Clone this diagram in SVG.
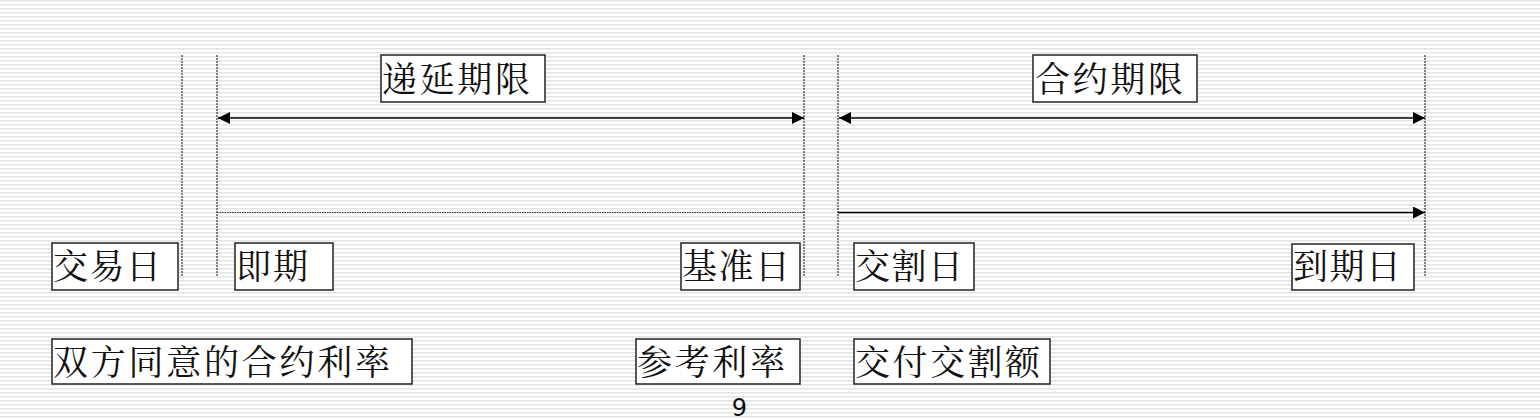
<svg xmlns="http://www.w3.org/2000/svg" width="1540" height="420" viewBox="0 0 1540 420">
<defs>
<pattern id="stripes" width="8" height="4" patternUnits="userSpaceOnUse">
<rect width="8" height="4" fill="#ffffff"/>
<rect y="0" width="8" height="1.6" fill="#e4e4e4"/>
</pattern>
<marker id="ah" viewBox="0 0 12 12" refX="12" refY="6" markerWidth="12" markerHeight="12" markerUnits="userSpaceOnUse" orient="auto-start-reverse">
<path d="M0,0 L12,6 L0,12 Z" fill="#000"/>
</marker>
</defs>
<style>
.box{fill:#fff;stroke:#222;stroke-width:1.5}
.t{font-family:"Noto Serif CJK SC","Noto Sans CJK SC",serif;font-size:35px;fill:#111}
.vd{stroke:#333;stroke-width:1.2;stroke-dasharray:2 1;fill:none}
.arr{stroke:#000;stroke-width:1.5;fill:none}
.dot{stroke:#333;stroke-width:1.2;stroke-dasharray:1.5 1;fill:none}
.pg{font-family:"DejaVu Sans",sans-serif;font-size:24px;fill:#111}
</style>
<rect width="1540" height="420" fill="url(#stripes)"/>
<g id="connectors">
<line class="vd" x1="182" y1="55" x2="182" y2="277"/>
<line class="vd" x1="217" y1="55" x2="217" y2="277"/>
<line class="vd" x1="804" y1="55" x2="804" y2="277"/>
<line class="vd" x1="838" y1="55" x2="838" y2="277"/>
<line class="vd" x1="1425" y1="55" x2="1425" y2="277"/>
<line class="arr" x1="218" y1="118" x2="804" y2="118" marker-start="url(#ah)" marker-end="url(#ah)"/>
<line class="arr" x1="839" y1="118" x2="1425" y2="118" marker-start="url(#ah)" marker-end="url(#ah)"/>
<line class="dot" x1="217" y1="212.5" x2="805" y2="212.5"/>
<line class="arr" x1="838" y1="212.5" x2="1425" y2="212.5" marker-end="url(#ah)"/>
</g>
<g id="n-diyanqixian"><rect class="box" x="381" y="55" width="164" height="47"/><text class="t" x="382" y="92" textLength="148" lengthAdjust="spacing">递延期限</text></g>
<g id="n-heyueqixian"><rect class="box" x="1033" y="55" width="164" height="47"/><text class="t" x="1035" y="92" textLength="148" lengthAdjust="spacing">合约期限</text></g>
<g id="n-jiaoyiri"><rect class="box" x="52" y="243" width="126" height="47"/><text class="t" x="53" y="279" textLength="108" lengthAdjust="spacing">交易日</text></g>
<g id="n-jiqi"><rect class="box" x="235" y="243" width="98" height="47"/><text class="t" x="236" y="279" textLength="72" lengthAdjust="spacing">即期</text></g>
<g id="n-jizhunri"><rect class="box" x="681" y="243" width="119" height="47"/><text class="t" x="682" y="279" textLength="108" lengthAdjust="spacing">基准日</text></g>
<g id="n-jiaogeri"><rect class="box" x="854" y="243" width="120" height="47"/><text class="t" x="855" y="279" textLength="108" lengthAdjust="spacing">交割日</text></g>
<g id="n-daoqiri"><rect class="box" x="1292" y="244" width="122" height="46"/><text class="t" x="1293" y="279" textLength="108" lengthAdjust="spacing">到期日</text></g>
<g id="n-shuangfang"><rect class="box" x="52" y="339" width="360" height="45"/><text class="t" x="53" y="375" textLength="337" lengthAdjust="spacing">双方同意的合约利率</text></g>
<g id="n-cankaolilv"><rect class="box" x="636" y="339" width="164" height="45"/><text class="t" x="637" y="375" textLength="148" lengthAdjust="spacing">参考利率</text></g>
<g id="n-jiaofu"><rect class="box" x="854" y="339" width="196" height="45"/><text class="t" x="855" y="375" textLength="185" lengthAdjust="spacing">交付交割额</text></g>
<text class="pg" x="739.5" y="416" text-anchor="middle">9</text>
</svg>
